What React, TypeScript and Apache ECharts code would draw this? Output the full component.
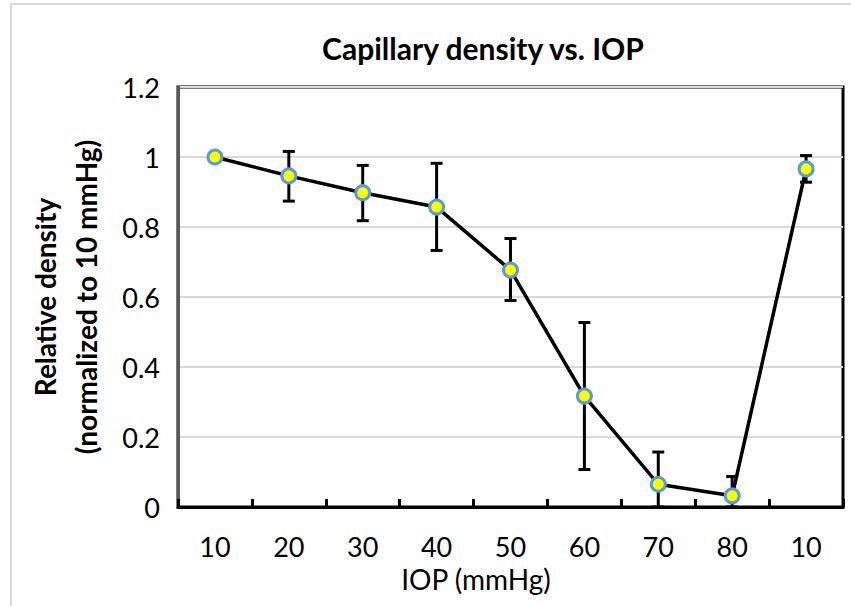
import React, { useEffect, useRef } from "react";
import * as echarts from "echarts";

const categories = ["10", "20", "30", "40", "50", "60", "70", "80", "10"];
const density = [1.0, 0.946, 0.898, 0.857, 0.677, 0.317, 0.065, 0.032, 0.966];
const errorPlus = [0, 0.07, 0.078, 0.125, 0.09, 0.21, 0.092, 0.055, 0.038];
const errorMinus = [0, 0.072, 0.08, 0.124, 0.087, 0.21, 0.092, 0.055, 0.038];

const FONT = "Lato";

export default function App() {
  const ref = useRef<HTMLDivElement>(null);
  useEffect(() => {
    if (!ref.current) return;
    const chart = echarts.init(ref.current, null, { renderer: "svg" });
    const errData = density.map((v, i) => [i, Math.max(0, v - errorMinus[i]), v + errorPlus[i]]);
    chart.setOption({
      animation: false,
      backgroundColor: "#fff",
      textStyle: { fontFamily: FONT },
      title: {
        text: "Capillary density vs. IOP",
        left: 478,
        top: 28,
        textAlign: "center",
        textStyle: { fontFamily: FONT, fontWeight: "bold", fontSize: 30, color: "#000" },
      },
      graphic: [
        {
          type: "rect",
          shape: { x: 11, y: 4, width: 860, height: 620 },
          style: { fill: "none", stroke: "#d9d9d9", lineWidth: 2 },
          silent: true,
        },
      ],
      grid: {
        left: 178,
        top: 87,
        width: 665,
        height: 420,
        show: true,
        borderColor: "#000",
        borderWidth: 3,
      },
      xAxis: {
        type: "category",
        data: categories,
        boundaryGap: true,
        axisLine: { lineStyle: { color: "#000", width: 3 } },
        axisTick: { show: true, inside: true, length: 8, lineStyle: { color: "#000", width: 3 } },
        axisLabel: { color: "#000", fontSize: 27, margin: 26, fontFamily: FONT },
        name: "IOP (mmHg)",
        nameLocation: "middle",
        nameGap: 53,
        nameTextStyle: { color: "#000", fontSize: 28, fontFamily: FONT, padding: [0, 69, 0, 0] },
        splitLine: { show: false },
      },
      yAxis: {
        type: "value",
        min: 0,
        max: 1.2,
        interval: 0.2,
        axisLine: { show: true, lineStyle: { color: "#595959", width: 3 } },
        axisTick: { show: false },
        axisLabel: { color: "#000", fontSize: 27, margin: 18, fontFamily: FONT },
        splitLine: { show: true, lineStyle: { color: "#d9d9d9", width: 2 } },
        name: "Relative density\n(normalized to 10 mmHg)",
        nameLocation: "middle",
        nameRotate: 90,
        nameGap: 72,
        nameTextStyle: { color: "#000", fontSize: 28, fontWeight: "bold", lineHeight: 41, fontFamily: FONT },
      },
      series: [
        {
          type: "custom",
          z: 3,
          data: errData,
          renderItem: (params: any, api: any) => {
            const idx = api.value(0);
            const lo = api.coord([idx, api.value(1)]);
            const hi = api.coord([idx, api.value(2)]);
            const half = 6;
            const style = { stroke: "#000", lineWidth: 3 };
            return {
              type: "group",
              children: [
                { type: "line", shape: { x1: hi[0], y1: hi[1], x2: lo[0], y2: lo[1] }, style },
                { type: "line", shape: { x1: hi[0] - half, y1: hi[1], x2: hi[0] + half, y2: hi[1] }, style },
                { type: "line", shape: { x1: lo[0] - half, y1: lo[1], x2: lo[0] + half, y2: lo[1] }, style },
              ],
            };
          },
          encode: { x: 0, y: [1, 2] },
        },
        {
          type: "line",
          z: 5,
          data: density,
          symbol: "circle",
          symbolSize: 14,
          lineStyle: { color: "#000", width: 3.5 },
          itemStyle: { color: "#ffff00", borderColor: "#5b9bd5", borderWidth: 3 },
        },
      ],
    });
    return () => chart.dispose();
  }, []);
  return (
    <div
      ref={ref}
      style={{ position: "fixed", left: 0, top: 0, width: 851, height: 606 }}
    />
  );
}
